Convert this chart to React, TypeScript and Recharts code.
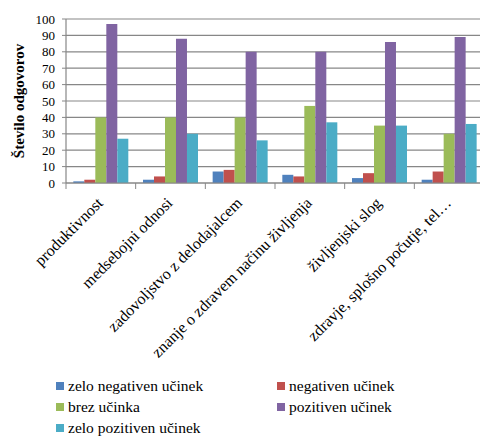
import React from 'react';
import { BarChart, Bar, XAxis, YAxis, CartesianGrid, Legend } from 'recharts';

const categories = [
  'produktivnost',
  'medsebojni odnosi',
  'zadovoljstvo z delodajalcem',
  'znanje o zdravem načinu življenja',
  'življenjski slog',
  'zdravje, splošno počutje, tel…',
];

const zeloNegativen = [1, 2, 7, 5, 3, 2];
const negativen = [2, 4, 8, 4, 6, 7];
const brez = [40, 40, 40, 47, 35, 30];
const pozitiven = [97, 88, 80, 80, 86, 89];
const zeloPozitiven = [27, 30, 26, 37, 35, 36];

const yTicks = [0, 10, 20, 30, 40, 50, 60, 70, 80, 90, 100];

const series = [
  { key: 'zn', name: 'zelo negativen učinek', values: zeloNegativen, color: '#4F81BD' },
  { key: 'n', name: 'negativen učinek', values: negativen, color: '#C0504D' },
  { key: 'b', name: 'brez učinka', values: brez, color: '#9BBB59' },
  { key: 'p', name: 'pozitiven učinek', values: pozitiven, color: '#8064A2' },
  { key: 'zp', name: 'zelo pozitiven učinek', values: zeloPozitiven, color: '#4BACC6' },
];

const data = categories.map((c, i) => {
  const row: any = { name: c };
  series.forEach((s) => (row[s.key] = s.values[i]));
  return row;
});

const FONT = 'Liberation Serif';
const GRID = '#878787';

const XTick = (props: any) => {
  const { x, y, payload } = props;
  const off = payload && typeof payload.offset === 'number' ? payload.offset : 0;
  const ax = x + 3;
  const ay = y + 21;
  return (
    <g>
      <line x1={x - off} x2={x - off} y1={y} y2={y + 6} stroke={GRID} strokeWidth={1} />
      <text
        x={ax}
        y={ay}
        transform={`rotate(-45, ${ax}, ${ay})`}
        textAnchor="end"
        style={{ fontFamily: FONT, fontSize: 16 }}
        fill="#000"
      >
        {payload.value}
      </text>
    </g>
  );
};

const YLabel = (props: any) => {
  const vb = props.viewBox || {};
  const cx = (vb.x || 0) + 19;
  const cy = (vb.y || 0) + (vb.height || 0) / 2;
  return (
    <text
      x={cx}
      y={cy}
      transform={`rotate(-90, ${cx}, ${cy})`}
      textAnchor="middle"
      dominantBaseline="central"
      style={{ fontFamily: FONT, fontWeight: 'bold', fontSize: 15 }}
      fill="#000"
    >
      Število odgovorov
    </text>
  );
};

const LegendContent = (props: any) => {
  const payload = [...(props.payload || [])].sort(
    (a: any, b: any) =>
      series.findIndex((s) => s.name === a.value) - series.findIndex((s) => s.name === b.value)
  );
  return (
    <div
      style={{
        height: 71,
        boxSizing: 'border-box',
        paddingTop: 9,
        paddingLeft: 56,
        display: 'grid',
        gridTemplateColumns: '221px 221px',
        gridAutoRows: '21px',
        fontFamily: FONT,
        fontSize: 15.5,
        lineHeight: '18px',
        color: '#000',
        overflow: 'visible',
      }}
    >
      {payload.map((p: any) => (
        <div key={p.value} style={{ display: 'flex', alignItems: 'center', whiteSpace: 'nowrap' }}>
          <span
            style={{
              display: 'inline-block',
              width: 8,
              height: 8,
              background: p.color,
              marginRight: 4,
            }}
          />
          <span>{p.value}</span>
        </div>
      ))}
    </div>
  );
};

export default function App() {
  return (
    <div style={{ position: 'absolute', left: 0, top: 0, width: 480, height: 437, overflow: 'hidden', background: '#fff', fontFamily: FONT }}>
      <BarChart
        width={480}
        height={437}
        data={data}
        margin={{ top: 19, right: -4, bottom: 0, left: 0 }}
        barCategoryGap="10.5%"
        barGap={0}
      >
        <CartesianGrid vertical={false} stroke={GRID} strokeWidth={1.2} />
        <XAxis
          dataKey="name"
          interval={0}
          height={183}
          tickLine={false}
          tickSize={0}
          tickMargin={0}
          axisLine={{ stroke: GRID, strokeWidth: 1.2 }}
          tick={<XTick />}
        />
        <YAxis
          width={66}
          domain={[0, 100]}
          ticks={yTicks}
          interval={0}
          tickSize={4}
          tickMargin={7}
          tickLine={{ stroke: GRID }}
          axisLine={{ stroke: GRID, strokeWidth: 1.2 }}
          tick={{ fontFamily: FONT, fontSize: 13, fill: '#000', style: { fontFamily: FONT } }}
          label={<YLabel />}
        />
        <Legend
          verticalAlign="bottom"
          content={<LegendContent />}
          wrapperStyle={{ height: 71 }}
          itemSorter={null as any}
        />
        {series.map((s) => (
          <Bar key={s.key} dataKey={s.key} name={s.name} fill={s.color} isAnimationActive={false} />
        ))}
      </BarChart>
    </div>
  );
}
